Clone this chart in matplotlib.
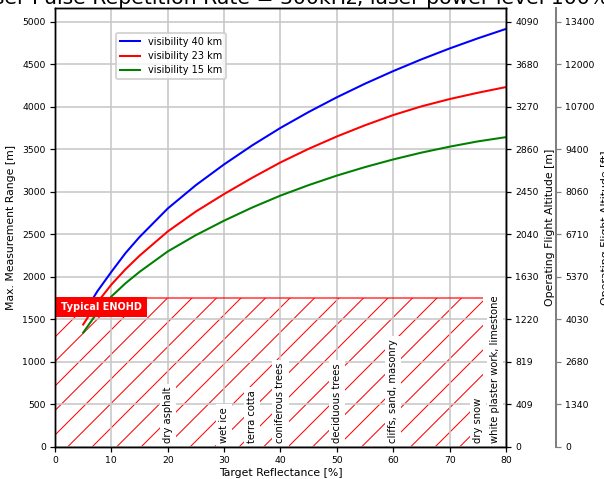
import matplotlib
matplotlib.use('Agg')
import matplotlib.pyplot as plt

# reflectance [%] and max range [m] for three visibilities
reflectance = [5, 7.5, 10, 12.5, 15, 20, 25, 30, 35, 40, 45, 50, 55, 60, 65, 70, 75, 80]
range_vis40 = [1560, 1830, 2060, 2280, 2470, 2805, 3080, 3324, 3548, 3753, 3940, 4113, 4273, 4421, 4559, 4687, 4806, 4917]
range_vis23 = [1440, 1700, 1910, 2090, 2250, 2535, 2770, 2975, 3167, 3347, 3507, 3652, 3784, 3904, 4006, 4092, 4166, 4233]
range_vis15 = [1345, 1580, 1770, 1925, 2060, 2300, 2492, 2662, 2817, 2957, 3080, 3192, 3292, 3382, 3462, 3532, 3594, 3644]

# eye safety zone
enohd_range = 1750
enohd_refl = [0, 76]

materials = ['dry asphalt', 'wet ice', 'terra cotta', 'coniferous trees', 'deciduous trees',
             'cliffs, sand, masonry', 'dry snow', 'white plaster work, limestone']
material_refl = [20, 30, 35, 40, 50, 60, 75, 78]

range_ticks = [0, 500, 1000, 1500, 2000, 2500, 3000, 3500, 4000, 4500, 5000]
alt_m_labels = ['0', '409', '819', '1220', '1630', '2040', '2450', '2860', '3270', '3680', '4090']
alt_ft_labels = ['0', '1340', '2680', '4030', '5370', '6710', '8060', '9400', '10700', '12000', '13400']

DPI = 147
plt.rcParams['hatch.linewidth'] = 0.5
plt.rcParams['axes.linewidth'] = 0.7

fig = plt.figure(figsize=(604 / DPI, 479 / DPI), dpi=DPI)
ax = fig.add_axes([55 / 604, 32 / 479, 451 / 604, 439 / 479])

tick_fs = 4.5
label_fs = 5.3

ax.plot(reflectance, range_vis40, color='blue', lw=1.0, label='visibility 40 km')
ax.plot(reflectance, range_vis23, color='red', lw=1.0, label='visibility 23 km')
ax.plot(reflectance, range_vis15, color='green', lw=1.0, label='visibility 15 km')

ax.fill_between(enohd_refl, 0, enohd_range, facecolor='none', edgecolor='red',
                hatch='//', linewidth=0, zorder=1)
ax.hlines(enohd_range, enohd_refl[0], enohd_refl[1], color='red', alpha=0.6, lw=1.0, zorder=2)
ax.text(1, enohd_range - 45, 'Typical ENOHD', color='white', fontweight='bold', fontsize=4.8,
        ha='left', va='top', bbox=dict(facecolor='red', edgecolor='none', pad=2.5), zorder=4)

for name, r in zip(materials, material_refl):
    ax.text(r, 45, name, rotation=90, ha='center', va='bottom', fontsize=4.9,
            bbox=dict(facecolor='white', edgecolor='none', pad=1.5), zorder=3)

ymax = max(range_vis40) * 1.05
ax.set_xlim(0, 80)
ax.set_ylim(0, ymax)
ax.set_xticks(range(0, 81, 10))
ax.set_yticks(range_ticks)
ax.grid(True, color='#c8c8c8', lw=0.8)
ax.tick_params(labelsize=tick_fs, length=2.5, width=0.6, pad=2)
ax.set_xlabel('Target Reflectance [%]', fontsize=label_fs, labelpad=1.5)
ax.set_ylabel('Max. Measurement Range [m]', fontsize=label_fs, labelpad=3)
ax.set_title('Laser Pulse Repetition Rate = 300kHz, laser power level 100%', fontsize=10,
             pad=0.5, x=0.52)
ax.legend(loc='upper left', bbox_to_anchor=(0.125, 0.955), fontsize=4.8, framealpha=0.8,
          handlelength=2.0, borderpad=0.4, labelspacing=0.45)

# flight altitude in metres
ax2 = ax.twinx()
ax2.set_ylim(0, ymax)
ax2.set_yticks(range_ticks)
ax2.set_yticklabels(alt_m_labels)
ax2.tick_params(labelsize=tick_fs, length=2.5, width=0.6, pad=2)
ax2.set_ylabel('Operating Flight Altitude [m]', fontsize=label_fs, labelpad=3)

# flight altitude in feet, offset spine
ax3 = ax.twinx()
ax3.spines['right'].set_position(('axes', 1.111))
ax3.spines['right'].set_color('gray')
ax3.spines['right'].set_linewidth(1.0)
for s in ['left', 'top', 'bottom']:
    ax3.spines[s].set_visible(False)
ax3.set_ylim(0, ymax)
ax3.set_yticks(range_ticks)
ax3.set_yticklabels(alt_ft_labels)
ax3.tick_params(labelsize=tick_fs, length=2.5, width=0.6, pad=2, color='gray')
ax3.set_ylabel('Operating Flight Altitude [ft]', fontsize=label_fs, labelpad=3)

fig.savefig('out.png', dpi=DPI)
